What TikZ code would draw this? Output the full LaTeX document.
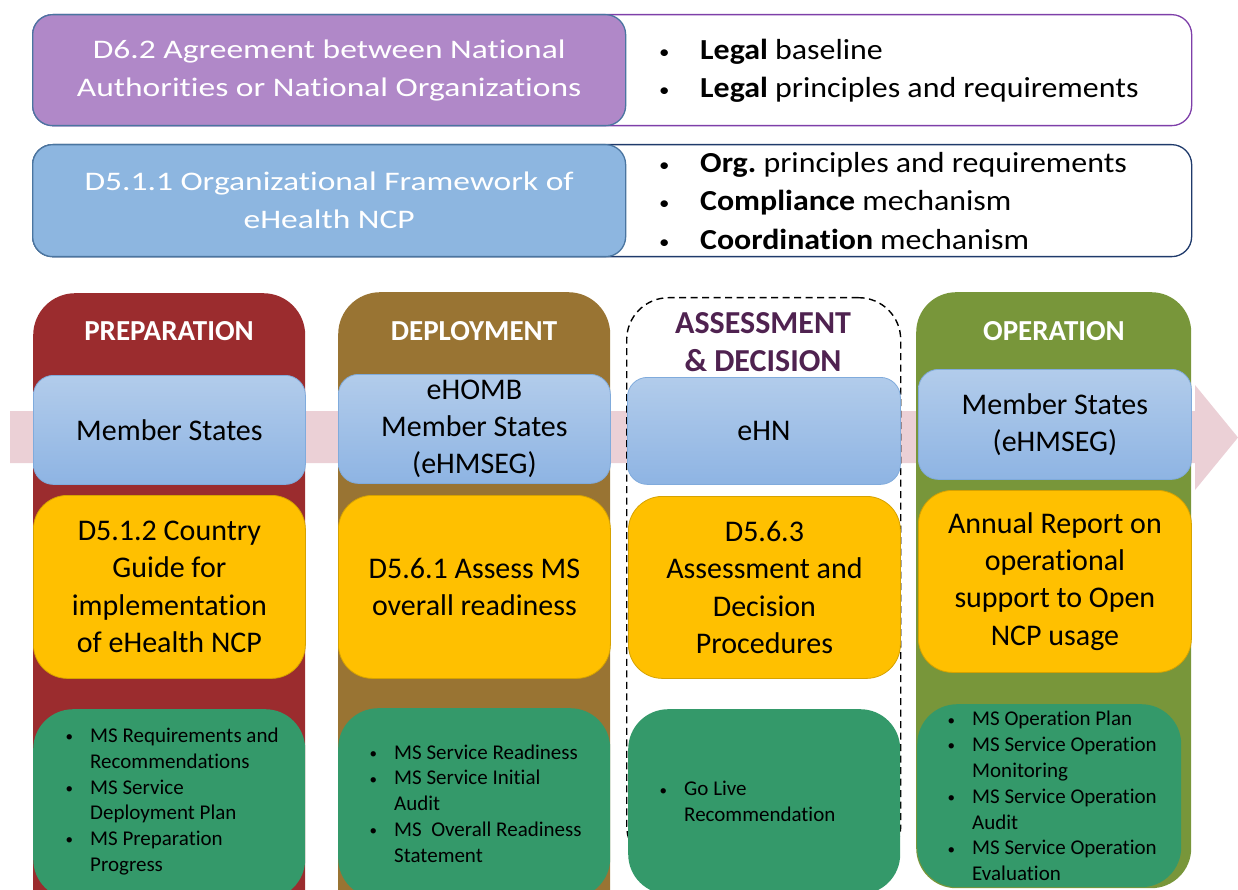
\documentclass[tikz,border=0pt]{standalone}
\usepackage{fontspec}
\setmainfont[Ligatures=NoCommon]{Carlito}
\newfontfamily\widefont[FakeStretch=1.25,Ligatures=NoCommon]{Carlito}
\newfontfamily\midwidefont[FakeStretch=1.1,Ligatures=NoCommon]{Carlito}
\frenchspacing
\definecolor{purpfill}{HTML}{B088C8}
\definecolor{purpline}{HTML}{7E3FA9}
\definecolor{bluefill}{HTML}{8DB6E0}
\definecolor{navyline}{HTML}{1F3A6B}
\definecolor{innerline}{HTML}{4A75A0}
\definecolor{prepred}{HTML}{9B2C2E}
\definecolor{deploybrown}{HTML}{997433}
\definecolor{opgreen}{HTML}{78963A}
\definecolor{msblueTop}{HTML}{B2CCEB}
\definecolor{msblueBot}{HTML}{8EB4E3}
\definecolor{msblueline}{HTML}{80ABDC}
\definecolor{yel}{HTML}{FFC000}
\definecolor{yelline}{HTML}{D6A200}
\definecolor{grn}{HTML}{34996A}
\definecolor{pinkarrow}{HTML}{EBD0D6}
\definecolor{titlepurple}{HTML}{4F2250}
\newcommand{\fTop}{\widefont\fontsize{26.8}{38}\selectfont}
\newcommand{\fBul}{\midwidefont\fontsize{29}{38.5}\selectfont}
\newcommand{\fTitle}{\bfseries\fontsize{29}{38}\selectfont}
\newcommand{\fBig}{\fontsize{30}{37.3}\selectfont}
\newcommand{\fGrn}{\fontsize{21}{25.8}\selectfont}
\newcommand{\tb}{\makebox[45pt][l]{\hspace*{4pt}\raisebox{1pt}{\fontsize{19}{19}\selectfont•}}}
\newcommand{\gb}{\makebox[27pt][l]{\hspace*{2.5pt}\raisebox{0.7pt}{\fontsize{15}{15}\selectfont•}}}
\newcommand{\gi}{\hspace*{27pt}}
\begin{document}
\begin{tikzpicture}[x=1pt,y=-1pt,
  frame/.style={fill=white, line width=1.3pt, rounded corners=20pt, anchor=north west, inner sep=0pt, minimum height=111pt, minimum width=1159pt},
  headbox/.style={draw=innerline, line width=1.3pt, rounded corners=20pt, anchor=north west, inner sep=0pt, minimum height=111pt, minimum width=593pt, text=white, font=\fTop, align=center},
  bullist/.style={anchor=west, inner sep=0pt, align=left, font=\fBul, text=black},
  colbox/.style={rounded corners=42pt, anchor=north west, inner sep=0pt},
  coltitle/.style={font=\fTitle, text=white, inner sep=0pt},
  msbox/.style={top color=msblueTop, bottom color=msblueBot, draw=msblueline, line width=0.8pt, rounded corners=20pt, anchor=north west, inner sep=0pt, font=\fBig, align=center},
  delivbox/.style={fill=yel, draw=yelline, line width=0.8pt, rounded corners=34pt, anchor=north west, inner sep=0pt, font=\fBig, align=center},
  outbox/.style={fill=grn, rounded corners=40pt, anchor=north west, inner sep=0pt},
  outlist/.style={anchor=west, inner sep=0pt, align=left, font=\fGrn, text=black}
]
\useasboundingbox (0,0) rectangle (1238,890);
\clip (0,0) rectangle (1238,890);

% ---- top boxes ----
\node[frame, draw=purpline] (legalframe) at (32,14) {};
\node[headbox, fill=purpfill] (agreement) at (32,14) {D6.2 Agreement between National\\Authorities or National Organizations};
\node[bullist] (legallist) at (655,71) {\tb\textbf{Legal} baseline\\\tb\textbf{Legal} principles and requirements};

\node[frame, draw=navyline, minimum height=112pt] (orgframe) at (32,144) {};
\node[headbox, fill=bluefill, minimum height=112pt] (orgfw) at (32,144) {D5.1.1 Organizational Framework of\\eHealth NCP};
\node[bullist] (orglist) at (655,201) {\tb\textbf{Org.} principles and requirements\\\tb\textbf{Compliance} mechanism\\\tb\textbf{Coordination} mechanism};

% ---- background arrow ----
\fill[pinkarrow] (10,411) -- (1195,411) -- (1195,385) -- (1238,437.5) -- (1195,490) -- (1195,463) -- (10,463) -- cycle;

% ---- columns ----
\node[colbox, fill=prepred, minimum width=272pt, minimum height=680pt] (prepcol) at (33,293) {};
\node[colbox, fill=deploybrown, minimum width=272pt, minimum height=680pt] (deploycol) at (338,292) {};
\node[colbox, draw=black, line width=1.4pt, dash pattern=on 7pt off 4.5pt, minimum width=274pt, minimum height=570pt] (assesscol) at (626,297) {};
\node[colbox, fill=opgreen, minimum width=275pt, minimum height=596pt, rounded corners=40pt] (opcol) at (916,292) {};

\node[coltitle] (preptitle) at (169,331) {PREPARATION};
\node[coltitle] (deploytitle) at (474,331) {DEPLOYMENT};
\node[coltitle, text=titlepurple, font=\bfseries\fontsize{32}{38}\selectfont, align=center] (assesstitle) at (763,342) {ASSESSMENT\\\& DECISION};
\node[coltitle] (optitle) at (1054,331) {OPERATION};

% ---- actor boxes ----
\node[msbox, minimum width=272pt, minimum height=109pt] (ms1) at (33,375) {Member States};
\node[msbox, minimum width=272pt, minimum height=109pt] (ms2) at (338,374) {eHOMB\\Member States\\(eHMSEG)};
\node[msbox, minimum width=273pt, minimum height=107pt] (ms3) at (627,377) {eHN};
\node[msbox, minimum width=273pt, minimum height=110pt] (ms4) at (918,369) {Member States\\(eHMSEG)};

% ---- deliverable boxes ----
\node[delivbox, minimum width=272pt, minimum height=183pt] (d1) at (33,495) {D5.1.2 Country\\Guide for\\implementation\\of eHealth NCP};
\node[delivbox, minimum width=272pt, minimum height=183pt] (d2) at (338,495) {D5.6.1 Assess MS\\overall readiness};
\node[delivbox, minimum width=272pt, minimum height=182pt] (d3) at (628,496) {D5.6.3\\Assessment and\\Decision\\Procedures};
\node[delivbox, minimum width=273pt, minimum height=182pt] (d4) at (918,490) {Annual Report on\\operational\\support to Open\\NCP usage};

% ---- output boxes ----
\node[outbox, minimum width=272pt, minimum height=190pt] (o1) at (33,709) {};
\node[outbox, minimum width=272pt, minimum height=190pt] (o2) at (338,708) {};
\node[outbox, minimum width=272pt, minimum height=185pt] (o3) at (628,709) {};
\node[outbox, minimum width=264pt, minimum height=183pt] (o4) at (917,704) {};

\node[outlist] (o1list) at (63,801.5) {\gb MS Requirements and\\\gi Recommendations\\\gb MS Service\\\gi Deployment Plan\\\gb MS Preparation\\\gi Progress};
\node[outlist] (o2list) at (367,803.5) {\gb MS Service Readiness\\\gb MS Service Initial\\\gi Audit\\\gb MS\ \ Overall Readiness\\\gi Statement};
\node[outlist] (o3list) at (657,801.5) {\gb Go Live\\\gi Recommendation};
\node[outlist] (o4list) at (945,796) {\gb MS Operation Plan\\\gb MS Service Operation\\\gi Monitoring\\\gb MS Service Operation\\\gi Audit\\\gb MS Service Operation\\\gi Evaluation};
\end{tikzpicture}
\end{document}
